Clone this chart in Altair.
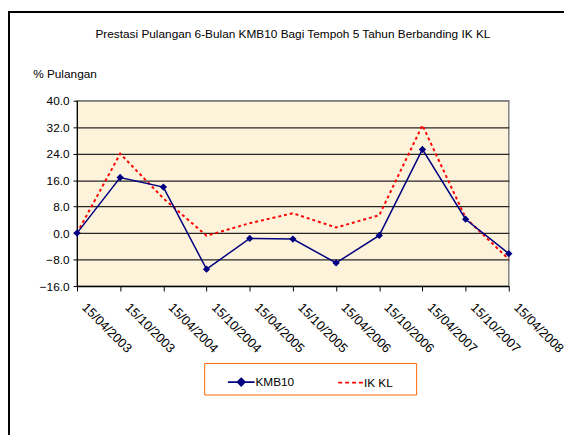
import altair as alt
import pandas as pd

dates = ["15/04/2003", "15/10/2003", "15/04/2004", "15/10/2004", "15/04/2005",
         "15/10/2005", "15/04/2006", "15/10/2006", "15/04/2007", "15/10/2007",
         "15/04/2008"]
kmb10 = [0.0, 16.8, 13.9, -10.9, -1.6, -1.8, -9.0, -0.7, 25.3, 4.2, -6.2]
ikkl = [0.0, 24.0, 10.5, -0.8, 3.0, 6.0, 1.7, 5.4, 32.6, 4.6, -7.9]
series_names = ["KMB10", "IK KL"]
y_ticks = [-16, -8, 0, 8, 16, 24, 32, 40]
title_text = "Prestasi Pulangan 6-Bulan KMB10 Bagi Tempoh 5 Tahun Berbanding IK KL"

df = pd.DataFrame({
    "date": dates * 2,
    "value": kmb10 + ikkl,
    "series": ["KMB10"] * len(dates) + ["IK KL"] * len(dates),
})

FONT = "Liberation Sans"
W, H = 438, 188
colors = ["#000080", "#FF0000"]

x_enc = alt.X("date:N", sort=dates, title=None,
              scale=alt.Scale(type="point", padding=0),
              axis=alt.Axis(labelAngle=45, labelAlign="left", labelBaseline="top",
                            labelPadding=10, labelOffset=11, tickSize=5,
                            tickColor="black", domainColor="black",
                            labelFont=FONT, labelFontSize=13, labelColor="black",
                            grid=False))
y_enc = alt.Y("value:Q", title="% Pulangan",
              scale=alt.Scale(domain=[-16, 40], nice=False, zero=False),
              axis=alt.Axis(values=y_ticks, format=".1f", tickSize=4, labelPadding=4,
                            tickColor="black", domainColor="black",
                            labelFont=FONT, labelFontSize=12, labelColor="black",
                            titleFont=FONT, titleFontSize=12, titleFontWeight="normal",
                            titleColor="black", titleAngle=0, titleAlign="left",
                            titleBaseline="middle", titleX=-45, titleY=-28,
                            grid=True, gridWidth=1.3,
                            gridColor={"condition": {"test": "datum.value == 40", "value": "#808080"},
                                       "value": "#262626"}))

# legend symbols: line + diamond for KMB10, dashed line for IK KL
# (the trailing zero-length move in the IK KL path only widens the legend box)
kmb_shape = ("M0.39,0L2.47,0M1.43,-0.28L1.71,0L1.43,0.28L1.15,0Z"
             "M1.43,-0.14L1.57,0L1.43,0.14L1.29,0Z M1.43,-0.28L1.43,0.28")
ik_shape = "M0.54,0L0.85,0M1.08,0L1.38,0M1.62,0L1.92,0M2.15,0L2.46,0M5.9,0L5.9,0"

legend = alt.Legend(
    orient="none", legendX=129, legendY=266, direction="horizontal", title=None,
    strokeColor="#FF6600", padding=5, symbolSize=676, labelOffset=19,
    columnPadding=23, labelFont=FONT, labelFontSize=12, labelColor="black",
    symbolStrokeWidth=1.8, symbolOpacity=1,
)

lines_kmb = alt.Chart(df).transform_filter("datum.series == 'KMB10'").mark_line(
    strokeWidth=1.5, color=colors[0]).encode(x=x_enc, y=y_enc)
lines_ik = alt.Chart(df).transform_filter("datum.series == 'IK KL'").mark_line(
    strokeWidth=2, strokeDash=[3, 3], color=colors[1]).encode(x=x_enc, y=y_enc)
points = alt.Chart(df).transform_filter("datum.series == 'KMB10'").mark_point(
    shape="diamond", filled=True, size=55, opacity=1, color=colors[0]).encode(x=x_enc, y=y_enc)

# legend-only layer (draws no rows; carries the series legend)
legend_layer = alt.Chart(df).transform_filter("false").mark_point(filled=False, opacity=1).encode(
    x=x_enc, y=y_enc,
    color=alt.Color("series:N", scale=alt.Scale(domain=series_names, range=colors), legend=legend),
    shape=alt.Shape("series:N", scale=alt.Scale(domain=series_names, range=[kmb_shape, ik_shape]),
                    legend=legend),
)

title_df = pd.DataFrame({"t": [title_text]})
title = alt.Chart(title_df).mark_text(font=FONT, fontSize=12, color="black",
                                      align="center", baseline="middle").encode(
    text="t:N", x=alt.value(W / 2), y=alt.value(-68))

border_df = pd.DataFrame({"b": [0]})
left_border = alt.Chart(border_df).mark_rule(color="black", strokeWidth=2).encode(
    x=alt.value(-69), y=alt.value(-91), y2=alt.value(350))
top_border = alt.Chart(border_df).mark_rule(color="black", strokeWidth=2).encode(
    x=alt.value(-70), x2=alt.value(500), y=alt.value(-90))

chart = alt.layer(lines_ik, lines_kmb, points, legend_layer, title, left_border, top_border).properties(
    width=W, height=H,
    autosize=alt.AutoSizeParams(type="none"),
    padding={"left": 70, "top": 91, "right": 56, "bottom": 148},
    background="white",
).configure_view(fill="#FDF3DA", stroke="#808080", strokeWidth=1.5)

chart.save("out.html", embed_options={"renderer": "svg", "actions": False})
